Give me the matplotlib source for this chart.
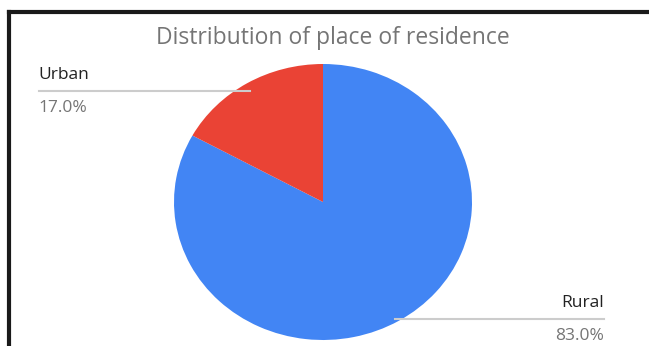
import matplotlib.pyplot as plt
from matplotlib.lines import Line2D

plt.rcParams['font.family'] = ['Open Sans', 'DejaVu Sans']

labels = ['Rural', 'Urban']
shares = [83.0, 17.0]
colors = ['#4285F4', '#EA4335']

W, H = 649, 346
fig = plt.figure(figsize=(W / 100, H / 100), dpi=100)
fig.patch.set_facecolor('white')


def fx(px):
    return px / W


def fy(py):
    return 1 - py / H


# pie box (pixels): left 174, right 472, top 64, bottom 340
ax = fig.add_axes([fx(174), fy(340), (472 - 174) / W, (340 - 64) / H])
ax.pie(shares, colors=colors, startangle=90, counterclock=False,
       wedgeprops=dict(linewidth=0))
ax.set_aspect('auto')
ax.set_xlim(-1, 1)
ax.set_ylim(-1, 1)
ax.axis('off')

fig.text(fx(333), fy(38), 'Distribution of place of residence', ha='center', va='center',
         fontsize=16.5, color='#757575')

# Urban callout
fig.add_artist(Line2D([fx(39), fx(250)], [fy(91), fy(91)], color='#cccccc', lw=1.5))
fig.text(fx(38), fy(75), labels[1], ha='left', va='center', fontsize=12.5, color='#222222')
fig.text(fx(38), fy(108), f'{shares[1]:.1f}%', ha='left', va='center', fontsize=12.5, color='#757575')

# Rural callout
fig.add_artist(Line2D([fx(395), fx(604)], [fy(319), fy(319)], color='#cccccc', lw=1.5))
fig.text(fx(604), fy(303), labels[0], ha='right', va='center', fontsize=12.5, color='#222222')
fig.text(fx(604), fy(336), f'{shares[0]:.1f}%', ha='right', va='center', fontsize=12.5, color='#757575')

# outer frame (left and top edges)
fig.add_artist(Line2D([fx(8.5), fx(8.5)], [fy(11.5), 0], color='#1a1a1a', lw=3))
fig.add_artist(Line2D([fx(8.5), 1], [fy(11.5), fy(11.5)], color='#1a1a1a', lw=3))

fig.savefig('out.png', dpi=100)
